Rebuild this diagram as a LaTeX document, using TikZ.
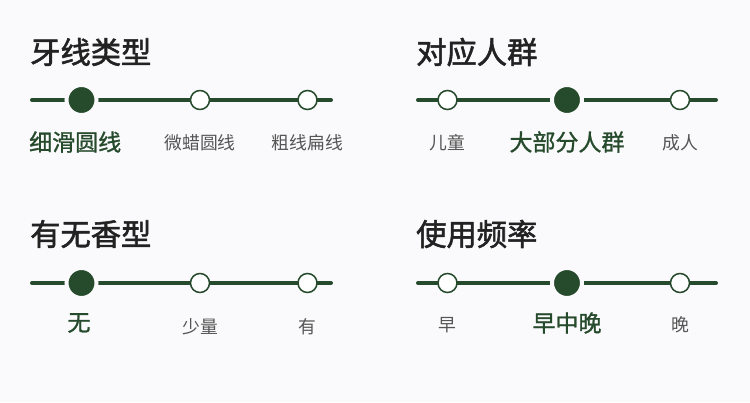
\documentclass[tikz,border=0pt]{standalone}
\usepackage{fontspec}
\setmainfont{Noto Sans CJK SC}
\newfontfamily\medfont{Noto Sans CJK SC}[FakeBold=1.2]
\newfontfamily\ttlfont{Noto Sans CJK SC}[FakeBold=1.8]
\definecolor{bg}{HTML}{FAFAFC}
\definecolor{grn}{HTML}{264A2C}
\definecolor{ttl}{HTML}{222222}
\definecolor{lbl}{HTML}{555555}
\tikzset{
  px/.style={x=1pt,y=-1pt},
  title/.style={anchor=west,inner sep=0pt,font=\ttlfont\fontsize{30.3}{33}\selectfont,text=ttl},
  rail/.style={draw=grn,line width=4pt,line cap=round},
  onknob/.style={circle,fill=grn,draw=bg,line width=4pt,minimum size=30pt,inner sep=0pt},
  offknob/.style={circle,fill=white,draw=grn,line width=1.5pt,minimum size=19pt,inner sep=0pt},
  onlbl/.style={inner sep=0pt,font=\medfont\fontsize{23}{25}\selectfont,text=grn},
  offlbl/.style={inner sep=0pt,font=\fontsize{17.8}{20}\selectfont,text=lbl},
}
\begin{document}
\begin{tikzpicture}[px]
\fill[bg] (0,0) rectangle (750,402);
\useasboundingbox (0,0) rectangle (750,402);
% group 1
\node[title] (t1) at (30,52) {牙线类型};
\coordinate (a1) at (32,100);
\coordinate (b1) at (331,100);
\draw[rail] (a1) -- (b1);
\node[onknob] (k11) at (81.5,100) {};
\node[offknob] (k12) at (200,100) {};
\node[offknob] (k13) at (307.5,100) {};
\node[onlbl,anchor=west] (l11) at (29,142) {细滑圆线};
\node[offlbl] (l12) at (200,143) {微蜡圆线};
\node[offlbl] (l13) at (307.5,143) {粗线扁线};
% group 2
\node[title] (t2) at (416,52) {对应人群};
\coordinate (a2) at (418,100);
\coordinate (b2) at (716,100);
\draw[rail] (a2) -- (b2);
\node[offknob] (k21) at (447.5,100) {};
\node[onknob] (k22) at (567,100) {};
\node[offknob] (k23) at (680,100) {};
\node[offlbl] (l21) at (447.5,143) {儿童};
\node[onlbl] (l22) at (567,142) {大部分人群};
\node[offlbl] (l23) at (680,143) {成人};
% group 3
\node[title] (t3) at (30,234) {有无香型};
\coordinate (a3) at (32,283);
\coordinate (b3) at (331,283);
\draw[rail] (a3) -- (b3);
\node[onknob] (k31) at (81.5,283) {};
\node[offknob] (k32) at (200,283) {};
\node[offknob] (k33) at (307.5,283) {};
\node[onlbl] (l31) at (79,323) {无};
\node[offlbl] (l32) at (200,327) {少量};
\node[offlbl] (l33) at (307.5,327) {有};
% group 4
\node[title] (t4) at (416,234) {使用频率};
\coordinate (a4) at (418,283);
\coordinate (b4) at (716,283);
\draw[rail] (a4) -- (b4);
\node[offknob] (k41) at (447.5,283) {};
\node[onknob] (k42) at (567,283) {};
\node[offknob] (k43) at (680,283) {};
\node[offlbl] (l41) at (447.5,325) {早};
\node[onlbl] (l42) at (567,323) {早中晚};
\node[offlbl] (l43) at (680,325) {晚};
\end{tikzpicture}
\end{document}
